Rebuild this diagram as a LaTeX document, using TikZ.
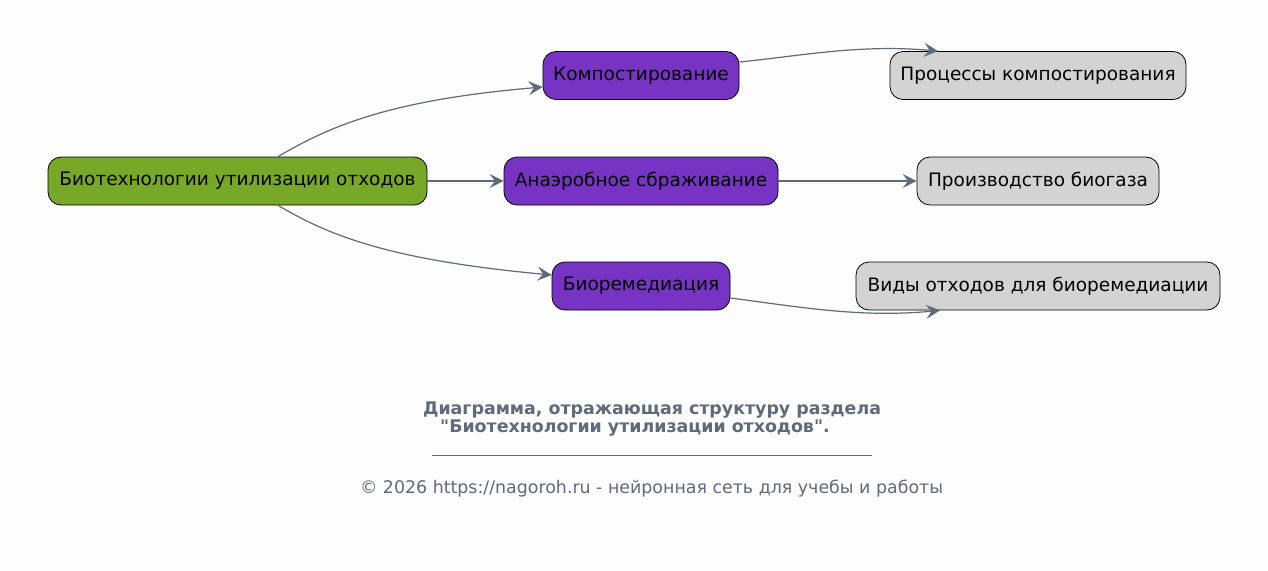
\documentclass[tikz,border=0pt]{standalone}
\usepackage{fontspec}
\setmainfont{DejaVu Sans}[Ligatures=TeXOff]
\usetikzlibrary{arrows.meta}
\definecolor{bg}{HTML}{FDFDFD}
\definecolor{edgec}{HTML}{5D6B7A}
\definecolor{rootc}{HTML}{78A828}
\definecolor{midc}{HTML}{7733C3}
\definecolor{leafc}{HTML}{D3D3D3}
\definecolor{capc}{HTML}{5F6B7B}
\tikzset{
  box/.style={draw=black, line width=0.8pt, rounded corners=13pt, minimum height=48pt, inner xsep=10pt, font=\fontsize{18.5}{22}\selectfont, text=black},
  rootbox/.style={box, fill=rootc},
  midbox/.style={box, fill=midc},
  leafbox/.style={box, fill=leafc},
  conn/.style={draw=edgec, line width=1.2pt, -{Stealth[length=14pt, width=14pt, inset=5.5pt]}},
  captxt/.style={text=capc, inner sep=0pt},
}
\begin{document}
\begin{tikzpicture}[x=1pt, y=-1pt]
\useasboundingbox (0,0) rectangle (1268,570);
\fill[bg] (0,0) rectangle (1268,570);
\node[rootbox, minimum width=379pt] (root) at (237.5,181) {Биотехнологии утилизации отходов};
\node[midbox, minimum width=196pt] (komp) at (641,75.5) {Компостирование};
\node[midbox, minimum width=274pt] (anae) at (641,181) {Анаэробное сбраживание};
\node[midbox, minimum width=178pt] (bior) at (641,286) {Биоремедиация};
\node[leafbox, minimum width=296pt] (proc) at (1038,75.5) {Процессы компостирования};
\node[leafbox, minimum width=242pt] (biog) at (1038,181) {Производство биогаза};
\node[leafbox, minimum width=364pt] (vidy) at (1038,286) {Виды отходов для биоремедиации};
\draw[conn] ([xshift=40.5pt]root.north) .. controls (330,126) and (390,100) .. ([yshift=-11.5pt]komp.west);
\draw[conn] (root.east) -- (anae.west);
\draw[conn] ([xshift=40.5pt]root.south) .. controls (330,236) and (390,260) .. ([yshift=11pt]bior.west);
\draw[conn] ([yshift=13.5pt]komp.east) .. controls (800,56) and (860,44) .. ([xshift=-100pt]proc.north);
\draw[conn] (anae.east) -- (biog.west);
\draw[conn] ([yshift=-12pt]bior.east) .. controls (800,307) and (860,318) .. ([xshift=-98pt]vidy.south);
\node[captxt, font=\bfseries\fontsize{17.4}{20}\selectfont] (cap1) at (652,410) {Диаграмма, отражающая структуру раздела};
\node[captxt, font=\bfseries\fontsize{17.4}{20}\selectfont, anchor=west] (cap2) at (440,428) {"Биотехнологии утилизации отходов".};
\draw[capc, line width=0.6pt] (432,455) -- (872,455);
\node[captxt, font=\fontsize{17.4}{20}\selectfont] (copy) at (651.5,489) {© 2026 https://nagoroh.ru - нейронная сеть для учебы и работы};
\end{tikzpicture}
\end{document}
